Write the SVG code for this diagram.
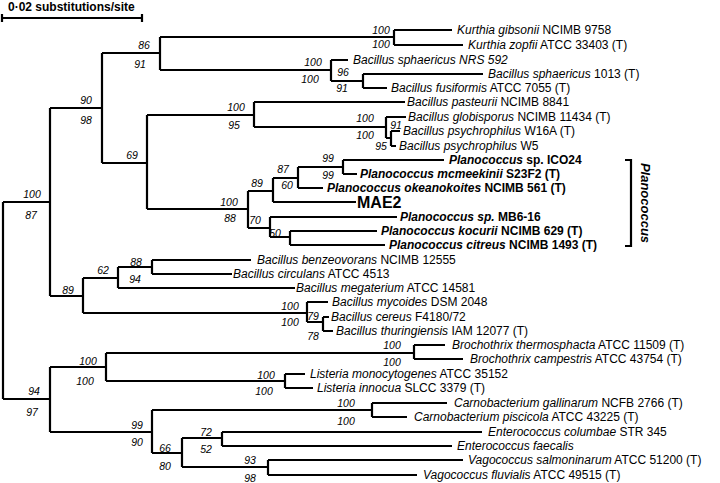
<svg xmlns="http://www.w3.org/2000/svg" width="720" height="483" viewBox="0 0 720 483">
<style>
.t{font-family:"Liberation Sans",Arial,sans-serif;font-size:12px;fill:#000}
.b{font-family:"Liberation Sans",Arial,sans-serif;font-size:10.5px;font-style:italic;fill:#000;text-anchor:middle}
.br{stroke:#000;stroke-width:2.2;fill:none}
.i{font-style:italic}
.bd{font-weight:bold}
</style>
<rect width="720" height="483" fill="#fff"/>
<g id="scale">
<path class="br" d="M2 18H142M2 14V22M142 14V22"/>
<text class="t bd" x="8" y="11" font-size="11">0·02 substitutions/site</text>
</g>
<g id="connectors" class="br">
<path d="M3 202V399M3 202H50M3 399H50"/>
<path d="M50 108V296M50 108H102M50 296H83"/>
<path d="M102 53V163M102 53H160M102 163H147"/>
<path d="M160 37V70M160 37H394M160 70H331"/>
<path d="M394 30V45M394 30H452M394 45H463"/>
<path d="M331 60V81M331 60H348M331 81H363M363 74V88M363 74H483M363 88H387"/>
<path d="M147 115V209M147 115H254M147 209H248"/>
<path d="M254 102V127M254 102H405M254 127H386M386 117V138M386 117H406M386 138H391M391 131V146M391 131H400M391 146H396"/>
<path d="M248 191V228M248 191H273M248 228H270"/>
<path d="M273 178V202M273 178H298M273 202H356"/>
<path d="M298 167V188M298 167H343M298 188H323M343 160V174M343 160H444M343 174H357"/>
<path d="M270 217V237M270 217H397M270 237H290M290 231V245M290 231H377M290 245H385"/>
<path d="M625 160H631V246H625"/>
<path d="M83 278V313M83 278H118M83 313H307"/>
<path d="M118 267V288M118 267H152M118 288H295M152 260V274M152 260H251M152 274H232"/>
<path d="M307 302V322M307 302H328M307 322H323M323 317V331M323 317H329M323 331H333"/>
<path d="M50 367V432M50 367H106M50 432H152"/>
<path d="M106 353V381M106 353H414M106 381H285"/>
<path d="M414 345V359M414 345H445M414 359H463M285 374V388M285 374H305M285 388H313"/>
<path d="M152 410V453M152 410H372M152 453H182M372 403V417M372 403H447M372 417H407"/>
<path d="M182 438V467M182 438H222M182 467H268"/>
<path d="M222 432V446M222 432H482M222 446H452M268 460V475M268 460H463M268 475H417"/>
</g>
<g id="support">
<text class="b" x="32" y="198">100</text><text class="b" x="31" y="219">87</text>
<text class="b" x="34" y="395">94</text><text class="b" x="32" y="416">97</text>
<text class="b" x="86" y="104">90</text><text class="b" x="86" y="124">98</text>
<text class="b" x="144" y="49">86</text><text class="b" x="140" y="68">91</text>
<text class="b" x="381" y="34">100</text><text class="b" x="381" y="48">100</text>
<text class="b" x="313" y="66">100</text><text class="b" x="310" y="83">100</text>
<text class="b" x="343" y="76">96</text><text class="b" x="342" y="92">91</text>
<text class="b" x="132" y="159">69</text>
<text class="b" x="236" y="111">100</text><text class="b" x="234" y="129">95</text>
<text class="b" x="365" y="122">100</text><text class="b" x="365" y="139">100</text>
<text class="b" x="396" y="129">91</text><text class="b" x="381" y="150">95</text>
<text class="b" x="229" y="206">100</text><text class="b" x="230" y="222">88</text>
<text class="b" x="257" y="187">89</text>
<text class="b" x="283" y="173">87</text><text class="b" x="287" y="189">60</text>
<text class="b" x="328" y="162">99</text><text class="b" x="328" y="179">99</text>
<text class="b" x="255" y="224">70</text><text class="b" x="275" y="237">50</text>
<text class="b" x="68" y="294">89</text>
<text class="b" x="103" y="274">62</text>
<text class="b" x="136" y="266">88</text><text class="b" x="135" y="283">94</text>
<text class="b" x="290" y="310">100</text><text class="b" x="290" y="326">100</text>
<text class="b" x="313" y="320">79</text><text class="b" x="313" y="340">78</text>
<text class="b" x="88" y="365">100</text><text class="b" x="85" y="385">100</text>
<text class="b" x="392" y="349">100</text><text class="b" x="392" y="366">100</text>
<text class="b" x="266" y="379">100</text><text class="b" x="264" y="395">100</text>
<text class="b" x="137" y="429">99</text><text class="b" x="137" y="446">90</text>
<text class="b" x="346" y="407">100</text><text class="b" x="346" y="425">100</text>
<text class="b" x="165" y="452">66</text><text class="b" x="165" y="470">80</text>
<text class="b" x="206" y="436">72</text><text class="b" x="206" y="453">52</text>
<text class="b" x="250" y="464">93</text><text class="b" x="250" y="482">98</text>
</g>
<g id="leaves" class="t">
<text x="457" y="34"><tspan class="i">Kurthia gibsonii</tspan> NCIMB 9758</text>
<text x="468" y="49"><tspan class="i">Kurthia zopfii</tspan> ATCC 33403 (T)</text>
<text x="353" y="64" class="i">Bacillus sphaericus NRS 592</text>
<text x="488" y="78"><tspan class="i">Bacillus sphaericus</tspan> 1013 (T)</text>
<text x="391" y="92"><tspan class="i">Bacillus fusiformis</tspan> ATCC 7055 (T)</text>
<text x="407" y="106"><tspan class="i">Bacillus pasteurii</tspan> NCIMB 8841</text>
<text x="408" y="121"><tspan class="i">Bacillus globisporus</tspan> NCIMB 11434 (T)</text>
<text x="403" y="135"><tspan class="i">Bacillus psychrophilus</tspan> W16A (T)</text>
<text x="399" y="150"><tspan class="i">Bacillus psychrophilus</tspan> W5</text>
<g class="bd">
<text x="449" y="164"><tspan class="i">Planococcus</tspan> sp. ICO24</text>
<text x="360" y="178"><tspan class="i">Planococcus mcmeekinii</tspan> S23F2 (T)</text>
<text x="327" y="192"><tspan class="i">Planococcus okeanokoites</tspan> NCIMB 561 (T)</text>
<text x="357" y="208" font-size="16">MAE2</text>
<text x="400" y="221"><tspan class="i">Planococcus sp.</tspan> MB6-16</text>
<text x="381" y="235"><tspan class="i">Planococcus kocurii</tspan> NCIMB 629 (T)</text>
<text x="389" y="249"><tspan class="i">Planococcus citreus</tspan> NCIMB 1493 (T)</text>
<text class="i" font-size="13" text-anchor="middle" transform="translate(641,203) rotate(90)">Planococcus</text>
</g>
<text x="257" y="264"><tspan class="i">Bacillus benzeovorans</tspan> NCIMB 12555</text>
<text x="233" y="278"><tspan class="i">Bacillus circulans</tspan> ATCC 4513</text>
<text x="296" y="292"><tspan class="i">Bacillus megaterium</tspan> ATCC 14581</text>
<text x="332" y="306"><tspan class="i">Bacillus mycoides</tspan> DSM 2048</text>
<text x="331" y="321"><tspan class="i">Bacillus cereus</tspan> F4180/72</text>
<text x="336" y="335"><tspan class="i">Bacillus thuringiensis</tspan> IAM 12077 (T)</text>
<text x="452" y="349"><tspan class="i">Brochothrix thermosphacta</tspan> ATCC 11509 (T)</text>
<text x="470" y="363"><tspan class="i">Brochothrix campestris</tspan> ATCC 43754 (T)</text>
<text x="310" y="378"><tspan class="i">Listeria monocytogenes</tspan> ATCC 35152</text>
<text x="317" y="392"><tspan class="i">Listeria innocua</tspan> SLCC 3379 (T)</text>
<text x="454" y="407"><tspan class="i">Carnobacterium gallinarum</tspan> NCFB 2766 (T)</text>
<text x="414" y="421"><tspan class="i">Carnobacterium piscicola</tspan> ATCC 43225 (T)</text>
<text x="488" y="436"><tspan class="i">Enterococcus columbae</tspan> STR 345</text>
<text x="457" y="450" class="i">Enterococcus faecalis</text>
<text x="468" y="464"><tspan class="i">Vagococcus salmoninarum</tspan> ATCC 51200 (T)</text>
<text x="423" y="479"><tspan class="i">Vagococcus fluvialis</tspan> ATCC 49515 (T)</text>
</g>
</svg>
